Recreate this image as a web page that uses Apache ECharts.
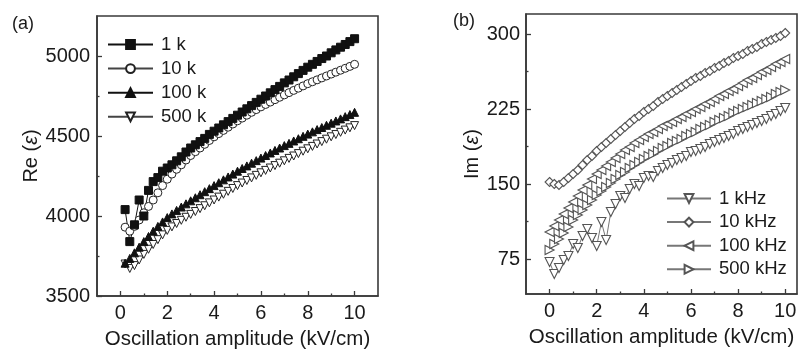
<!DOCTYPE html>
<html>
<head>
<meta charset="utf-8">
<script src="https://cdn.jsdelivr.net/npm/echarts@6/dist/echarts.min.js"></script>
<style>
html,body{margin:0;padding:0;background:#fff;}
#c{width:810px;height:354px;}
</style>
</head>
<body>
<div id="c"></div>
<script>
// ---------- Data ----------
// Panel (a): Re(eps) vs oscillation amplitude
const xA = [0.2,0.4,0.6,0.8,1.0,1.2,1.4,1.6,1.8,2.0,2.2,2.4,2.6,2.8,3.0,3.2,3.4,3.6,3.8,4.0,
            4.2,4.4,4.6,4.8,5.0,5.2,5.4,5.6,5.8,6.0,6.2,6.4,6.6,6.8,7.0,7.2,7.4,7.6,7.8,8.0,
            8.2,8.4,8.6,8.8,9.0,9.2,9.4,9.6,9.8,10.0];
const re1k = [4040,3840,3945,4100,4000,4160,4215,4240,4280,4300,4320,4345,4370,4400,4425,
              4445,4465,4485,4510,4530,4550,4570,4590,4610,4630,4650,4670,4690,4710,4730,
              4750,4770,4790,4810,4832,4850,4870,4890,4910,4930,4948,4966,4984,5000,5020,
              5038,5055,5072,5090,5108];
const re10k = [3930,3905,3935,3975,4020,4060,4100,4145,4190,4230,4262,4292,4320,4350,4378,
               4402,4425,4448,4472,4495,4515,4535,4555,4575,4595,4612,4630,4648,4665,4682,
               4697,4712,4727,4742,4757,4771,4785,4799,4813,4827,4839,4851,4863,4875,4887,
               4899,4911,4923,4935,4948];
const re100k = [3705,3735,3770,3805,3840,3872,3905,3935,3963,3990,4013,4035,4056,4076,4095,
                4114,4133,4152,4171,4190,4208,4226,4244,4262,4280,4297,4313,4330,4346,4362,
                4378,4394,4410,4425,4440,4454,4469,4483,4498,4512,4526,4540,4553,4567,4580,
                4594,4607,4621,4634,4648];
const re500k = [3700,3672,3690,3725,3760,3792,3822,3852,3882,3910,3932,3953,3973,3992,4010,
                4028,4046,4064,4082,4100,4118,4136,4154,4172,4190,4206,4222,4238,4254,4270,
                4285,4300,4315,4330,4345,4360,4375,4390,4405,4420,4435,4450,4465,4480,4495,
                4509,4523,4537,4551,4565];

// Panel (b): Im(eps) vs oscillation amplitude
const xB = [0.0,0.2,0.4,0.6,0.8,1.0,1.2,1.4,1.6,1.8,2.0,2.2,2.4,2.6,2.8,3.0,3.2,3.4,3.6,3.8,4.0,
            4.2,4.4,4.6,4.8,5.0,5.2,5.4,5.6,5.8,6.0,6.2,6.4,6.6,6.8,7.0,7.2,7.4,7.6,7.8,8.0,
            8.2,8.4,8.6,8.8,9.0,9.2,9.4,9.6,9.8,10.0];
const im10k = [152,150,149,152,156,160,164,169,174,178,183,187,191,195,199,203,207,211,215,218,222,
               225,228,232,235,238,241,244,247,250,253,256,258,261,263,266,268,271,273,276,278,
               280,283,285,287,290,292,294,296,298,301];
const im100k = [102,108,114,120,126,132,138,144,149,155,160,164,168,172,176,180,184,187,191,194,197,
                200,202,205,208,210,212,215,217,220,222,225,227,230,232,235,238,240,243,245,248,
                251,254,256,259,262,264,267,270,272,275];
const im500k = [84,90,95,101,107,114,119,124,129,134,139,143,147,151,155,159,162,166,169,172,175,
                178,180,183,186,188,191,193,195,198,200,202,205,207,209,212,214,216,218,221,223,
                225,227,229,231,233,235,237,240,242,244];
const im1k = [72,60,66,74,78,90,86,98,105,96,88,112,94,122,130,138,136,145,150,148,156,
              158,157,163,166,169,171,174,176,178,182,183,185,187,190,192,194,196,198,200,203,
              205,207,209,211,213,215,218,220,223,226];

// Tick labels / tick positions
const xMajor = [0,2,4,6,8,10];
const xMinor = [1,3,5,7,9];
const yAMajor = [3500,4000,4500,5000];
const yAMinor = [3750,4250,4750];
const yBMajor = [75,150,225,300];
const yBMinor = [112.5,187.5,262.5];

const namesA = ['1 k','10 k','100 k','500 k'];
const namesB = ['1 kHz','10 kHz','100 kHz','500 kHz'];

// ---------- Chart ----------
const FONT = 'Liberation Sans, Arial, sans-serif';
const TXT = '#1a1a1a';
const AX = '#3a3a3a';
const pair = (xs, ys) => xs.map((x, i) => [x, ys[i]]);

const DOWN = 'path://M0,0 L10,0 L5,9 Z';
const LEFT = 'path://M9,0 L9,10 L0,5 Z';
const RIGHT = 'path://M0,0 L0,10 L9,5 Z';
const UP = 'path://M5,0 L10,9 L0,9 Z';

const XMAX = [11, 10.5];
const YRANGE = [[3500, 5250], [40, 320]];

function mainX(grid) {
  return {
    type: 'value', gridIndex: grid, min: -1, max: XMAX[grid],
    position: 'bottom',
    name: 'Oscillation amplitude (kV/cm)', nameLocation: 'middle', nameGap: 33,
    nameTextStyle: {fontFamily: FONT, fontSize: 20.5, color: TXT},
    axisLine: {show: true, onZero: false, lineStyle: {color: AX, width: 1.6}},
    axisTick: {show: true, inside: true, length: 5, customValues: xMajor, lineStyle: {color: AX, width: 1.3}},
    axisLabel: {show: true, customValues: xMajor, margin: 7, fontFamily: FONT, fontSize: 20, color: TXT, formatter: v => String(v)},
    splitLine: {show: false}
  };
}
function minorX(grid) {
  return {
    type: 'value', gridIndex: grid, min: -1, max: XMAX[grid], position: 'bottom',
    axisLine: {show: false, onZero: false},
    axisTick: {show: true, inside: true, length: 2.5, customValues: xMinor, lineStyle: {color: AX, width: 1.3}},
    axisLabel: {show: false}, splitLine: {show: false}
  };
}
function mainY(grid, majors, nm, gap, margin) {
  return {
    type: 'value', gridIndex: grid, min: YRANGE[grid][0], max: YRANGE[grid][1], position: 'left',
    name: nm, nameLocation: 'middle', nameGap: gap,
    nameTextStyle: {fontFamily: FONT, fontSize: 20, color: TXT, rich: {i: {fontFamily: FONT, fontSize: 20, fontStyle: 'italic', color: TXT}}},
    axisLine: {show: true, onZero: false, lineStyle: {color: AX, width: 1.6}},
    axisTick: {show: true, inside: true, length: 5, customValues: majors, lineStyle: {color: AX, width: 1.3}},
    axisLabel: {show: true, customValues: majors, margin: margin, fontFamily: FONT, fontSize: 20, color: TXT, formatter: v => String(v)},
    splitLine: {show: false}
  };
}
function minorY(grid, minors) {
  return {
    type: 'value', gridIndex: grid, min: YRANGE[grid][0], max: YRANGE[grid][1], position: 'left',
    axisLine: {show: false, onZero: false},
    axisTick: {show: true, inside: true, length: 2.5, customValues: minors, lineStyle: {color: AX, width: 1.3}},
    axisLabel: {show: false}, splitLine: {show: false}
  };
}

const gridBase = {show: true, borderColor: AX, borderWidth: 1.6, containLabel: false, outerBoundsMode: 'none'};

const option = {
  animation: false,
  grid: [
    Object.assign({left: 97, top: 16, width: 281, height: 280}, gridBase),
    Object.assign({left: 526, top: 14, width: 271, height: 280}, gridBase)
  ],
  xAxis: [mainX(0), minorX(0), mainX(1), minorX(1)],
  yAxis: [
    mainY(0, yAMajor, 'Re ({i|ε})', 55, 7), minorY(0, yAMinor),
    mainY(1, yBMajor, 'Im ({i|ε})', 42, 6), minorY(1, yBMinor)
  ],
  legend: [
    {
      data: namesA, orient: 'vertical', left: 107, top: 35, padding: 0, z: 10,
      itemWidth: 45, itemHeight: 11, itemGap: 5.1,
      textStyle: {fontFamily: FONT, fontSize: 18.5, color: TXT, padding: [0, 0, 0, 3]}
    },
    {
      data: namesB, orient: 'vertical', left: 666, top: 189, padding: 0, z: 10,
      itemWidth: 44, itemHeight: 11, itemGap: 4.6,
      textStyle: {fontFamily: FONT, fontSize: 18.5, color: TXT, padding: [0, 0, 0, 3]}
    }
  ],
  graphic: [
    {type: 'text', left: 12, top: 15, style: {text: '(a)', font: '18px Liberation Sans, Arial, sans-serif', fill: TXT}},
    {type: 'text', left: 453, top: 12, style: {text: '(b)', font: '18px Liberation Sans, Arial, sans-serif', fill: TXT}}
  ],
  series: [
    {name: '500 k', type: 'line', xAxisIndex: 0, yAxisIndex: 0, data: pair(xA, re500k),
     symbol: DOWN, symbolSize: 8, showAllSymbol: true,
     lineStyle: {color: '#444', width: 1}, itemStyle: {color: '#fff', borderColor: '#222', borderWidth: 1}},
    {name: '100 k', type: 'line', xAxisIndex: 0, yAxisIndex: 0, data: pair(xA, re100k),
     symbol: UP, symbolSize: 8, showAllSymbol: true,
     lineStyle: {color: '#111', width: 1}, itemStyle: {color: '#111', borderColor: '#111', borderWidth: 1}},
    {name: '10 k', type: 'line', xAxisIndex: 0, yAxisIndex: 0, data: pair(xA, re10k),
     symbol: 'circle', symbolSize: 8, showAllSymbol: true,
     lineStyle: {color: '#444', width: 1}, itemStyle: {color: '#fff', borderColor: '#222', borderWidth: 1}},
    {name: '1 k', type: 'line', xAxisIndex: 0, yAxisIndex: 0, data: pair(xA, re1k),
     symbol: 'rect', symbolSize: 8, showAllSymbol: true,
     lineStyle: {color: '#111', width: 1}, itemStyle: {color: '#111', borderColor: '#111', borderWidth: 1}},
    {name: '1 kHz', type: 'line', xAxisIndex: 2, yAxisIndex: 2, data: pair(xB, im1k),
     symbol: DOWN, symbolSize: 9, showAllSymbol: true,
     lineStyle: {color: '#777', width: 1}, itemStyle: {color: '#fff', borderColor: '#555', borderWidth: 1.1}},
    {name: '500 kHz', type: 'line', xAxisIndex: 2, yAxisIndex: 2, data: pair(xB, im500k),
     symbol: RIGHT, symbolSize: 9, showAllSymbol: true,
     lineStyle: {color: '#777', width: 1}, itemStyle: {color: '#fff', borderColor: '#555', borderWidth: 1.1}},
    {name: '100 kHz', type: 'line', xAxisIndex: 2, yAxisIndex: 2, data: pair(xB, im100k),
     symbol: LEFT, symbolSize: 9, showAllSymbol: true,
     lineStyle: {color: '#777', width: 1}, itemStyle: {color: '#fff', borderColor: '#555', borderWidth: 1.1}},
    {name: '10 kHz', type: 'line', xAxisIndex: 2, yAxisIndex: 2, data: pair(xB, im10k),
     symbol: 'diamond', symbolSize: 9, showAllSymbol: true,
     lineStyle: {color: '#777', width: 1}, itemStyle: {color: '#fff', borderColor: '#555', borderWidth: 1.1}}
  ]
};

const chart = echarts.init(document.getElementById('c'), null, {renderer: 'canvas'});
chart.setOption(option);

// Fallback: if the axis frame/ticks were not produced natively, draw them from the chart's own scales.
try {
  const els = chart.getZr().storage.getDisplayList(true);
  const nLines = els.filter(e => e.type === 'line' && !e.invisible).length;
  if (nLines < 24) {
    const g = [];
    const panels = [
      {xi: 0, yi: 0, yMaj: yAMajor, yMin: yAMinor},
      {xi: 2, yi: 2, yMaj: yBMajor, yMin: yBMinor}
    ];
    panels.forEach((p, k) => {
      const f = {xAxisIndex: p.xi, yAxisIndex: p.yi};
      const tl = chart.convertToPixel(f, [-1, YRANGE[k][1]]);
      const br = chart.convertToPixel(f, [XMAX[k], YRANGE[k][0]]);
      g.push({type: 'rect', z: 20, shape: {x: tl[0], y: tl[1], width: br[0] - tl[0], height: br[1] - tl[1]},
              style: {fill: 'none', stroke: AX, lineWidth: 1.6}});
      const tick = (vals, len, isX) => vals.forEach(v => {
        if (isX) {
          const px = chart.convertToPixel(f, [v, YRANGE[k][0]]);
          g.push({type: 'line', z: 20, shape: {x1: px[0], y1: px[1], x2: px[0], y2: px[1] - len}, style: {stroke: AX, lineWidth: 1.3}});
        } else {
          const px = chart.convertToPixel(f, [-1, v]);
          g.push({type: 'line', z: 20, shape: {x1: px[0], y1: px[1], x2: px[0] + len, y2: px[1]}, style: {stroke: AX, lineWidth: 1.3}});
        }
      });
      tick(xMajor, 5, true); tick(xMinor, 2.5, true);
      tick(p.yMaj, 5, false); tick(p.yMin, 2.5, false);
    });
    chart.setOption({graphic: option.graphic.concat(g)}, {replaceMerge: ['graphic']});
  }
} catch (e) { /* ignore */ }
</script>
</body>
</html>
